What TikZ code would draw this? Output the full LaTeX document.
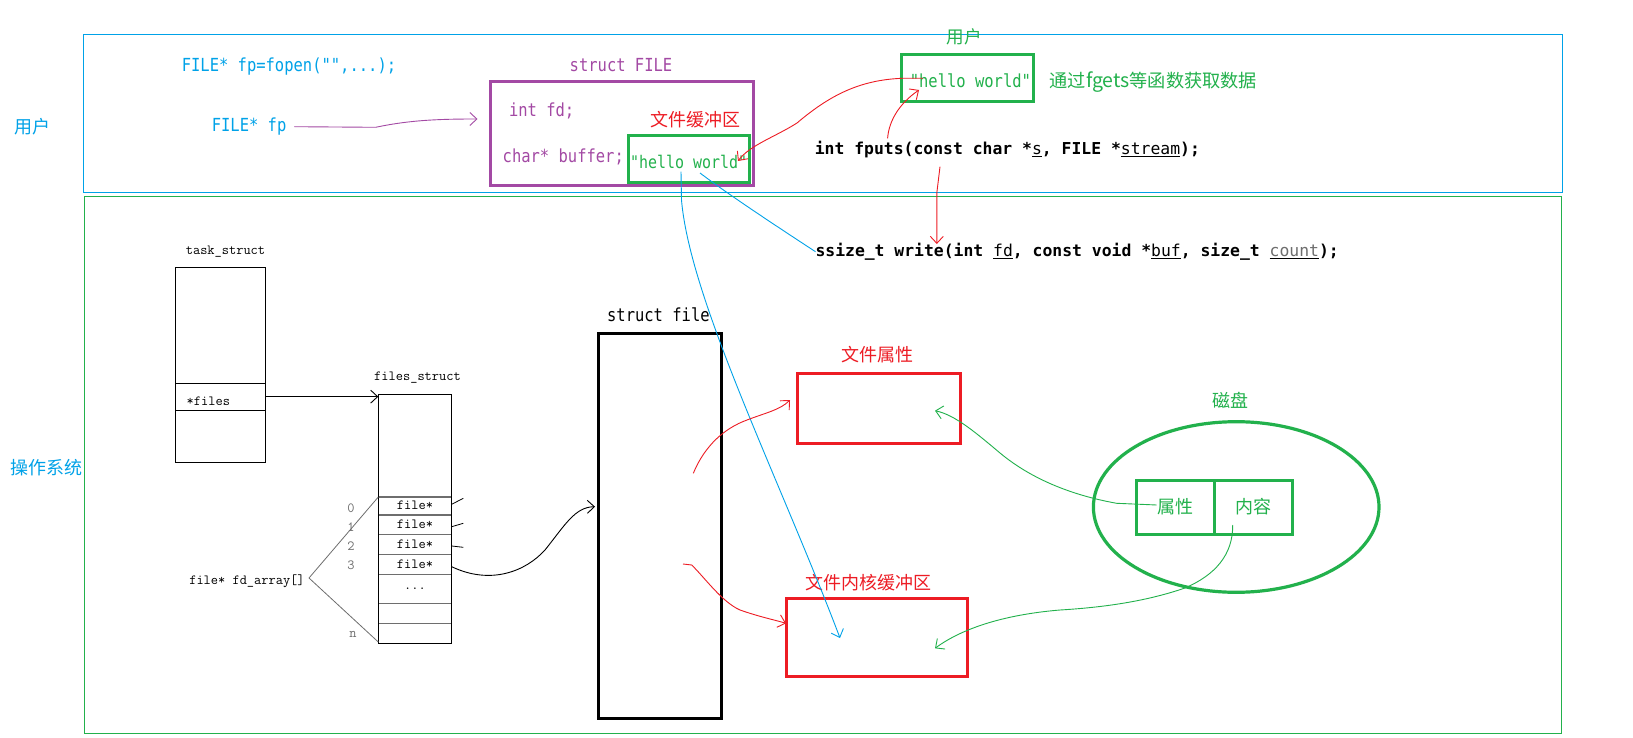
\documentclass[tikz,border=0pt]{standalone}
\usepackage{fontspec}
\usetikzlibrary{arrows.meta,shapes.geometric}
\newfontfamily\cjk{Noto Sans CJK SC}
\newfontfamily\nmono[FakeStretch=0.86]{DejaVu Sans Mono}
\newfontfamily\cmono{DejaVu Sans Mono}
\definecolor{ublue}{RGB}{0,162,232}
\definecolor{ugreen}{RGB}{34,177,76}
\definecolor{upurple}{RGB}{163,73,164}
\definecolor{ured}{RGB}{237,28,36}
\definecolor{ugray}{RGB}{110,110,110}
\begin{document}
\begin{tikzpicture}[x=1pt,y=-1pt,
  every node/.style={inner sep=0pt, outer sep=0pt},
  cjktxt/.style={font=\cjk\fontsize{18}{20}\selectfont},
  nmtxt/.style={font=\nmono\fontsize{18}{20}\selectfont},
  codetxt/.style={font=\cmono\bfseries\fontsize{16.4}{18}\selectfont},
  smtxt/.style={font=\ttfamily\fontsize{14}{16}\selectfont},
  zoneframe/.style={draw, line width=1.2pt, anchor=north west},
  fatbox/.style={draw, line width=3pt, anchor=north west},
  thinbox/.style={draw, line width=0.9pt, anchor=north west},
  rowline/.style={draw=ugray, line width=1.4pt},
  hand/.style={line width=0.9pt, -{Straight Barb[length=7pt,width=13pt]}},
  handline/.style={line width=0.9pt},
]
\useasboundingbox (0,0) rectangle (1633,738);
\fill[white] (0,0) rectangle (1633,738);

% zones
\node[zoneframe, ublue, minimum width=1479pt, minimum height=158pt] (userzone) at (83.4,34.3) {};
\node[zoneframe, ugreen, minimum width=1477pt, minimum height=537pt] (oszone) at (84.5,196.5) {};
\node[cjktxt, ublue] (lbluser) at (32.3,126.7) {用户};
\node[cjktxt, ublue] (lblos) at (46.9,467.6) {操作系统};

% user space
\node[nmtxt, ublue, anchor=west] (fopen) at (181.8,66.7) {FILE* fp=fopen("",...);};
\node[nmtxt, ublue, anchor=west] (fp) at (211.8,126.7) {FILE* fp};
\node[nmtxt, upurple] (lblFILE) at (621,65) {struct FILE};
\node[fatbox, upurple, minimum width=262.5pt, minimum height=104pt] (FILE) at (490.5,81.7) {};
\node[nmtxt, upurple, anchor=west] (fd) at (509,110.7) {int fd;};
\node[nmtxt, upurple, anchor=west] (buf) at (502.7,157.3) {char* buffer;};
\node[cjktxt, ured] (lblbuf) at (695,119.3) {文件缓冲区};
\node[fatbox, ugreen, minimum width=120.3pt, minimum height=46.3pt] (bufbox) at (628.7,136) {};
\node[ugreen, anchor=west, font=\nmono\fontsize{17.4}{19}\selectfont] (hw1) at (630,161.7) {"hello world"};

\node[ugreen, font=\cjk\fontsize{17.6}{19}\selectfont] (lbltopuser) at (964,36.7) {用户};
\node[fatbox, ugreen, minimum width=132pt, minimum height=47.4pt] (topbox) at (901.7,54.3) {};
\node[nmtxt, ugreen, anchor=west] (hw2) at (909.8,80.7) {"hello world"};
\node[ugreen, anchor=west, font=\cjk\fontsize{18.2}{19}\selectfont] (fgets) at (1049.7,81.7) {通过{\fontsize{19.5}{20}\selectfont fgets}等函数获取数据};

\node[codetxt, anchor=west] (fputs) at (814.8,149.3) {int fputs(const char *\underline{\mdseries s}, FILE *\underline{\mdseries stream});};
\node[codetxt, anchor=west] (write) at (815.5,251.7) {ssize\_t write(int \underline{\mdseries fd}, const void *\underline{\mdseries buf}, size\_t \underline{\mdseries\color{ugray}count});};

% kernel: task_struct
\node[smtxt] (lbltask) at (225.5,252) {task\_struct};
\node[thinbox, minimum width=89.3pt, minimum height=195pt] (task) at (175.7,267.7) {};
\node[thinbox, minimum width=89.3pt, minimum height=26.7pt] (filesrow) at (175.7,383.3) {};
\node[smtxt, anchor=west] (filestxt) at (186.7,401) {*files};

% files_struct
\node[smtxt] (lblfs) at (417.5,378) {files\_struct};
\node[thinbox, minimum width=73.4pt, minimum height=249pt] (fsbox) at (378.3,394.3) {};
\foreach \yy in {497,515,534.3,554.3,574.3,603.3,623.3}
  \draw[rowline] (379,\yy) -- (451,\yy);
\node[smtxt] (c0) at (415,505.5) {file*};
\node[smtxt] (c1) at (415,524.5) {file*};
\node[smtxt] (c2) at (415,544.5) {file*};
\node[smtxt] (c3) at (415,564.5) {file*};
\node[smtxt] (cdots) at (415,589) {...};
\node[smtxt, ugray] (n0) at (351,508) {0};
\node[smtxt, ugray] (n1) at (351,527) {1};
\node[smtxt, ugray] (n2) at (351,546) {2};
\node[smtxt, ugray] (n3) at (351,565) {3};
\node[smtxt, ugray] (nn) at (353,634) {n};
\node[smtxt, anchor=west] (fdarr) at (189.3,581) {file* fd\_array[]};

% struct file and kernel objects
\node[nmtxt] (lblfile) at (658.4,315) {struct file};
\node[fatbox, black, minimum width=122.7pt, minimum height=385.3pt] (sfile) at (598.3,333.3) {};
\node[cjktxt, ured] (lblattr) at (877,355) {文件属性};
\node[fatbox, ured, minimum width=162.3pt, minimum height=70pt] (attr) at (797.7,373.3) {};
\node[cjktxt, ured] (lblkbuf) at (868.5,582.7) {文件内核缓冲区};
\node[fatbox, ured, minimum width=181.3pt, minimum height=78.4pt] (kbuf) at (786,598.3) {};

% disk
\node[cjktxt, ugreen] (lbldisk) at (1230.5,400) {磁盘};
\node[draw=ugreen, line width=3.2pt, ellipse, minimum width=285.6pt, minimum height=170.6pt] (disk) at (1236.2,507) {};
\node[fatbox, ugreen, cjktxt, text=ugreen, minimum width=78pt, minimum height=54pt] (pattr) at (1136,480) {属性};
\node[fatbox, ugreen, cjktxt, text=ugreen, minimum width=78.3pt, minimum height=54pt] (pcont) at (1214,480) {内容};

% coordinates for free ends
\coordinate (pend) at (477.5,119);
\coordinate (r1s) at (922.8,78.3);
\coordinate (r1e) at (738,161);
\coordinate (r2s) at (887.6,138.3);
\coordinate (r2e) at (919,90);
\coordinate (r3s) at (940,166.7);
\coordinate (r3e) at (936.8,244);
\coordinate (b1s) at (681,171.7);
\coordinate (b1e) at (840,638);
\coordinate (b2s) at (700,173);
\coordinate (r4s) at (693.3,473.3);
\coordinate (r4e) at (790,400);
\coordinate (r5s) at (683,564);
\coordinate (r5e) at (786,623.3);
\coordinate (g1s) at (1156.7,505);
\coordinate (g1e) at (935,410.7);
\coordinate (g2s) at (1232.7,525);
\coordinate (g2e) at (935,648.3);
\coordinate (fdtop) at (378.3,497);
\coordinate (fdbot) at (378.3,642);
\coordinate (fdsrc) at (309,578);
\coordinate (t0a) at (451.7,504.3);
\coordinate (t0b) at (463.3,498.3);
\coordinate (t1a) at (451.7,526.7);
\coordinate (t1b) at (463.3,523.3);
\coordinate (t2a) at (451.7,546);
\coordinate (t2b) at (463.3,547.3);
\coordinate (t3a) at (451.7,566.7);
\coordinate (k2end) at (595,506.7);

% purple arrow
\draw[hand, upurple] ([xshift=8pt]fp.east) -- (375.7,127.3) .. controls (410,120) and (440,119) .. (pend);

% red arrows (user)
\draw[hand, ured] (r1s) -- (902,78.3) .. controls (860,80) and (830,95) .. (797,123) .. controls (775,137) and (750,145) .. (r1e);
\draw[hand, ured] (r2s) .. controls (889,120) and (900,103) .. (r2e);
\draw[hand, ured] (r3s) -- (936.8,193) -- (r3e);

% blue lines
\draw[hand, ublue] (b1s) -- (681.5,200) .. controls (690,300) and (780,480) .. (b1e);
\draw[handline, ublue] (b2s) .. controls (725,192) and (770,222) .. (write.west);

% red arrows (kernel)
\draw[hand, ured] (r4s) .. controls (705,445) and (725,428) .. (747,420) .. controls (765,413) and (780,410) .. (r4e);
\draw[hand, ured] (r5s) -- (691.7,565) .. controls (705,578) and (722,602) .. (740,610) .. controls (760,617) and (775,620) .. (r5e);

% green arrows
\draw[hand, ugreen] (g1s) -- (1116.7,503.3) .. controls (1070,495) and (1030,478) .. (1000,453) .. controls (975,432) and (955,415) .. (g1e);
\draw[hand, ugreen] (g2s) .. controls (1233,555) and (1215,575) .. (1185,588) .. controls (1150,600) and (1110,607) .. (1060,610) .. controls (1000,615) and (960,630) .. (g2e);

% black connectors
\draw[hand, black] (filesrow.east) -- (fsbox.north west |- filesrow.east);
\draw[line width=0.8pt, ugray] (fdsrc) -- (fdtop);
\draw[line width=0.8pt, ugray] (fdsrc) -- (fdbot);
\draw[line width=0.8pt] (t0a) -- (t0b);
\draw[line width=0.8pt] (t1a) -- (t1b);
\draw[line width=0.8pt] (t2a) -- (t2b);
\draw[hand, black] (t3a) .. controls (490,585) and (525,572) .. (545,550) .. controls (565,525) and (575,507) .. (k2end);
\end{tikzpicture}
\end{document}
